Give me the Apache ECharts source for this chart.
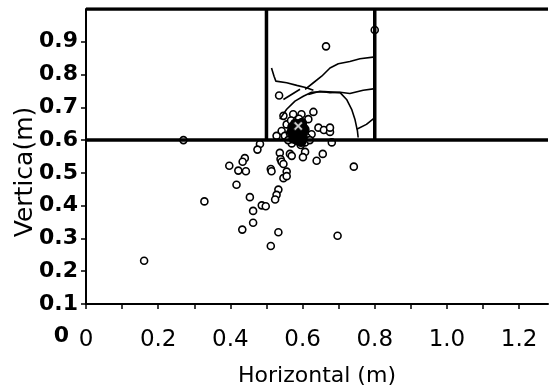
<!DOCTYPE html>
<html>
<head>
<meta charset="utf-8">
<script src="https://cdn.jsdelivr.net/npm/echarts@6/dist/echarts.min.js"></script>
<style>
  html, body { margin: 0; padding: 0; background: #fff; }
  #chart { width: 549px; height: 392px; }
</style>
</head>
<body>
<div id="chart"></div>
<script>
// measured points (horizontal, vertical) in metres
const pointsBelow = [
  [0.482, 0.588], [0.475, 0.571], [0.537, 0.561], [0.565, 0.558], [0.570, 0.552],
  [0.607, 0.564], [0.601, 0.548], [0.656, 0.558], [0.639, 0.537], [0.539, 0.542],
  [0.542, 0.534], [0.440, 0.545], [0.434, 0.534], [0.397, 0.522], [0.422, 0.507],
  [0.443, 0.505], [0.512, 0.512], [0.514, 0.505], [0.547, 0.527], [0.556, 0.504],
  [0.547, 0.484], [0.556, 0.490], [0.742, 0.519], [0.417, 0.464], [0.328, 0.413],
  [0.454, 0.426], [0.533, 0.449], [0.528, 0.433], [0.524, 0.419], [0.487, 0.401],
  [0.498, 0.398], [0.463, 0.384], [0.463, 0.348], [0.433, 0.327], [0.533, 0.319],
  [0.697, 0.308], [0.512, 0.277], [0.161, 0.232], [0.681, 0.593], [0.270, 0.600]
]
const pointsInside = [
  [0.547, 0.674], [0.574, 0.679], [0.597, 0.679], [0.630, 0.686], [0.616, 0.664],
  [0.556, 0.648], [0.542, 0.628], [0.528, 0.613], [0.551, 0.613], [0.644, 0.638],
  [0.659, 0.631], [0.676, 0.625], [0.676, 0.638], [0.625, 0.618], [0.574, 0.603],
  [0.593, 0.598], [0.607, 0.593], [0.565, 0.620], [0.580, 0.630], [0.600, 0.625],
  [0.612, 0.608], [0.585, 0.612], [0.570, 0.590], [0.595, 0.585], [0.560, 0.600],
  [0.620, 0.600], [0.603, 0.640], [0.568, 0.660], [0.590, 0.665], [0.535, 0.736],
  [0.665, 0.886], [0.800, 0.936]
]
// dense overlapping spot around the source
const blobPoints = [
  [0.578, 0.615], [0.592, 0.622], [0.600, 0.610], [0.585, 0.600], [0.570, 0.625],
  [0.605, 0.632], [0.590, 0.640], [0.575, 0.605], [0.596, 0.595], [0.580, 0.650],
  [0.598, 0.652], [0.572, 0.640]
]
const sourcePoint = [[0.588, 0.643]]
const crackPaths = [
  [[0.514, 0.820], [0.521, 0.795], [0.526, 0.780], [0.556, 0.775], [0.584, 0.767], [0.611, 0.760], [0.630, 0.752]],
  [[0.607, 0.755], [0.630, 0.775], [0.653, 0.795], [0.676, 0.820], [0.699, 0.833], [0.731, 0.840], [0.759, 0.848], [0.801, 0.854]],
  [[0.616, 0.739], [0.648, 0.749], [0.676, 0.745], [0.704, 0.746], [0.731, 0.742], [0.768, 0.752], [0.801, 0.757]],
  [[0.537, 0.664], [0.556, 0.694], [0.579, 0.719], [0.602, 0.734], [0.625, 0.746], [0.660, 0.748], [0.704, 0.745],
   [0.722, 0.724], [0.736, 0.694], [0.745, 0.664], [0.752, 0.628], [0.754, 0.608]],
  [[0.750, 0.633], [0.777, 0.648], [0.801, 0.669]],
  [[0.547, 0.724], [0.593, 0.755]]
]
const boxX = [0.5, 0.8]
const boxY = [0.6, 1.0]
const xRange = [0, 1.28]
const yRange = [0.1, 1.0]

const chart = echarts.init(document.getElementById('chart'), null, { renderer: 'canvas' })

const FONT = '"DejaVu Sans", "Liberation Sans", Arial, sans-serif'

const frameLines = [
  [[xRange[0], boxY[0]], [xRange[1], boxY[0]]],
  [[xRange[0], boxY[1]], [xRange[1], boxY[1]]],
  [[boxX[0], boxY[0]], [boxX[0], boxY[1]]],
  [[boxX[1], boxY[0]], [boxX[1], boxY[1]]]
]

const lineSeries = (data, width) => ({
  type: 'line',
  data,
  symbol: 'none',
  silent: true,
  animation: false,
  lineStyle: { color: '#000', width }
})

const scatterSeries = (data, size, fill) => ({
  type: 'scatter',
  data,
  symbol: 'circle',
  symbolSize: size,
  animation: false,
  itemStyle: { color: fill, borderColor: '#000', borderWidth: 1.6, opacity: 1 }
})

const option = {
  backgroundColor: '#fff',
  grid: { left: 86, top: 9, right: 1, bottom: 86 },
  xAxis: {
    type: 'value',
    min: xRange[0],
    max: xRange[1],
    interval: 0.1,
    splitLine: { show: false },
    axisLine: { lineStyle: { color: '#000', width: 2 } },
    axisTick: { show: true, inside: false, length: 5, lineStyle: { color: '#000', width: 1.5 } },
    axisLabel: {
      color: '#000',
      fontFamily: FONT,
      fontSize: 23,
      margin: 25,
      showMaxLabel: false,
      formatter: v => {
        const k = Math.round(v * 10)
        if (k % 2 !== 0) return ''
        return k === 0 ? '0' : (k / 10).toFixed(1)
      }
    },
    name: 'Horizontal (m)',
    nameLocation: 'middle',
    nameGap: 61,
    nameTextStyle: { color: '#000', fontFamily: FONT, fontSize: 22 }
  },
  yAxis: {
    type: 'value',
    min: yRange[0],
    max: yRange[1],
    interval: 0.1,
    splitLine: { show: false },
    axisLine: { lineStyle: { color: '#000', width: 2 } },
    axisTick: { show: true, inside: false, length: 5, lineStyle: { color: '#000', width: 1.5 } },
    axisLabel: {
      color: '#000',
      fontFamily: FONT,
      fontSize: 22,
      fontWeight: 'bold',
      margin: 8,
      showMaxLabel: false,
      formatter: v => (v > 0.95 ? '' : v.toFixed(1))
    }
  },
  graphic: [
    {
      type: 'text',
      x: 25,
      y: 172,
      rotation: Math.PI / 2,
      style: {
        text: 'Vertica(m)', fill: '#000', font: '25px ' + FONT,
        textAlign: 'center', textVerticalAlign: 'middle'
      }
    },
    {
      type: 'text',
      x: 69,
      y: 336,
      style: { text: '0', fill: '#000', font: 'bold 22px ' + FONT, textAlign: 'right', textVerticalAlign: 'middle' }
    }
  ],
  series: [
    ...frameLines.map(d => lineSeries(d, 3.5)),
    ...crackPaths.map(d => lineSeries(d, 1.6)),
    scatterSeries(pointsBelow, 7, '#fff'),
    scatterSeries(pointsInside, 7, '#fff'),
    scatterSeries(blobPoints, 9, '#000'),
    {
      type: 'scatter',
      data: sourcePoint,
      symbol: 'path://M3,0 L5,0 L5,3 L8,3 L8,5 L5,5 L5,8 L3,8 L3,5 L0,5 L0,3 L3,3 Z',
      symbolSize: 11,
      symbolRotate: 45,
      animation: false,
      itemStyle: { color: '#fff', borderColor: '#000', borderWidth: 1 }
    }
  ]
}

chart.setOption(option)
</script>
</body>
</html>
